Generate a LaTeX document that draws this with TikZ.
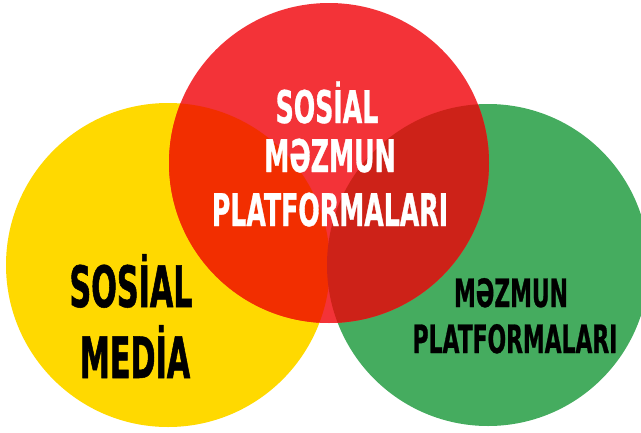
\documentclass[tikz,border=0pt]{standalone}
\usepackage{fontspec}
\newfontfamily\vennfont{DejaVu Sans}[FakeStretch=0.56,FakeBold=0.7]
\newfontfamily\vennfontn{DejaVu Sans}[FakeStretch=0.53,FakeBold=0.9]
\definecolor{vyellow}{HTML}{FFD900}
\definecolor{vgreen}{HTML}{45AC5F}
\definecolor{vred}{HTML}{F33338}
\definecolor{vorange}{HTML}{F22E00}
\definecolor{vdark}{HTML}{CD2218}
\tikzset{
  toplbl/.style={anchor=base,inner sep=0pt,text=white,font=\vennfont\bfseries\fontsize{45}{51}\selectfont},
  leftlbl/.style={anchor=base,inner sep=0pt,text=black,font=\vennfontn\bfseries\fontsize{57}{70}\selectfont},
  rightlbl/.style={anchor=base,inner sep=0pt,text=black,font=\vennfont\bfseries\fontsize{39}{46}\selectfont}
}
\begin{document}
\begin{tikzpicture}[x=1pt,y=-1pt]
  \useasboundingbox (0,0) rectangle (641,432);

  \fill[vyellow] (168,265) circle (162pt) ; %Draw yellow circle
  \fill[vgreen]  (488,265) circle (161pt) ; %Draw green circle
  \fill[vred]    (329,163) circle (160pt) ; %Draw red circle

  %Draw overlap of red and yellow
  \begin{scope}
    \clip (329,163) circle (160pt) ;
    \fill[vorange] (168,265) circle (162pt) ;
  \end{scope}

  %Draw overlap of red and green
  \begin{scope}
    \clip (329,163) circle (160pt) ;
    \fill[vdark] (488,265) circle (161pt) ;
  \end{scope}

  %Labels in red circle
  \node[toplbl] (top1) at (327,123) {SOSİAL} ;
  \node[toplbl] (top2) at (330,172) {MƏZMUN} ;
  \node[toplbl] (top3) at (330,226) {PLATFORMALARI} ;

  %Labels in yellow circle
  \node[leftlbl] (left1) at (131,307) {SOSİAL} ;
  \node[leftlbl] (left2) at (135,378) {MEDİA} ;

  %Labels in green circle
  \node[rightlbl] (right1) at (511,307) {MƏZMUN} ;
  \node[rightlbl] (right2) at (515,353) {PLATFORMALARI} ;

\end{tikzpicture}
\end{document}
